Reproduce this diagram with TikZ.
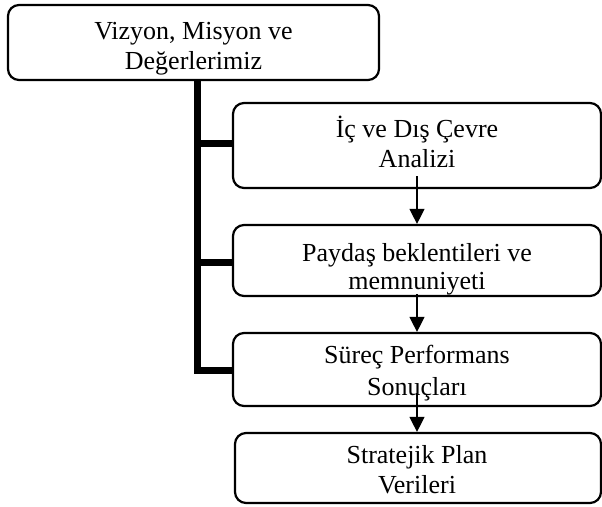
\documentclass[tikz,border=0pt]{standalone}
\usepackage{fontspec}
\setmainfont{Liberation Serif}
\usetikzlibrary{arrows.meta}
\begin{document}
\begin{tikzpicture}[x=1pt,y=-1pt,
  box/.style={draw, line width=2.2pt, rounded corners=11pt, inner sep=0pt},
  txt/.style={align=center, inner sep=0pt, font=\fontsize{26}{30}\selectfont},
  trunk/.style={line width=7pt},
  flow/.style={line width=1.3pt, -{Triangle[width=15pt,length=15pt]}}]
  \useasboundingbox (0,0) rectangle (602,506);
  \clip (0,0) rectangle (602,506);

  % boxes
  \node[box, minimum width=371pt, minimum height=75pt] (vision) at (193.5,42.5) {};
  \node[box, minimum width=368pt, minimum height=85pt] (env) at (417,145.5) {};
  \node[box, minimum width=368pt, minimum height=71pt] (stake) at (417,260.5) {};
  \node[box, minimum width=368pt, minimum height=73pt] (proc) at (417,369.5) {};
  \node[box, minimum width=366pt, minimum height=70pt] (plan) at (418,468) {};

  % box texts
  \node[txt, yshift=-6pt] (visiontxt) at (vision.center) {Vizyon, Misyon ve\\Değerlerimiz};
  \node[txt, yshift=4pt] (envtxt) at (env.center) {İç ve Dış Çevre\\Analizi};
  \node[txt, font=\fontsize{26}{28}\selectfont, yshift=-9pt] (staketxt) at (stake.center) {Paydaş beklentileri ve\\memnuniyeti};
  \node[txt, font=\fontsize{26}{32}\selectfont, yshift=-4pt] (proctxt) at (proc.center) {Süreç Performans\\Sonuçları};
  \node[txt, xshift=-1pt, yshift=-2pt] (plantxt) at (plan.center) {Stratejik Plan\\Verileri};

  % thick bracket linking the top box to the three boxes
  \coordinate (bartop) at (197,80);
  \coordinate (barbot) at (197,370);
  \draw[trunk] (bartop) -- (barbot) -- (barbot -| proc.west);
  \draw[trunk] (197,143) -- (env.west |- 0,143);
  \draw[trunk] (197,262) -- (stake.west |- 0,262);

  % arrows between consecutive steps
  \draw[flow, shorten <=-13pt] (env.south) -- (stake.north);
  \draw[flow, shorten <=-3pt] (stake.south) -- (proc.north);
  \draw[flow, shorten <=-14pt] (proc.south) -- (proc.south |- plan.north);
\end{tikzpicture}
\end{document}
